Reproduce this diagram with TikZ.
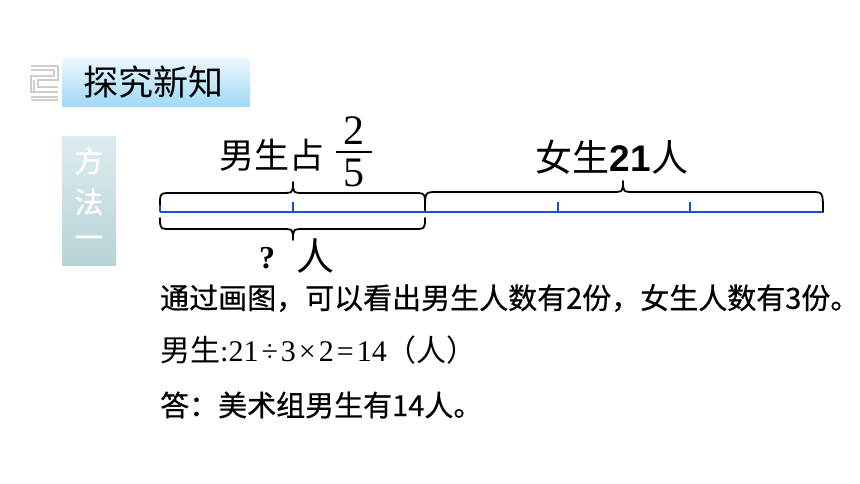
\documentclass[tikz,border=0pt]{standalone}
\usepackage{fontspec}
\setmainfont{Liberation Serif}
\newfontfamily\cjk{Noto Sans CJK SC}
\newfontfamily\cjkm[FakeBold=0.6]{Noto Sans CJK SC}
\newfontfamily\sansf{Liberation Sans}
\newfontfamily\serifb{Liberation Serif Bold}
\definecolor{barblue}{RGB}{30,80,205}
\definecolor{hdtop}{RGB}{236,248,253}
\definecolor{hdbot}{RGB}{160,216,245}
\definecolor{sdtop}{RGB}{220,236,238}
\definecolor{sdbot}{RGB}{184,211,214}
\definecolor{icongray}{RGB}{205,205,205}
\tikzset{
  bar/.style={draw=barblue,line width=2pt},
  bracestyle/.style={draw=black,line width=1.8pt,line cap=round,line join=round},
  txt/.style={inner sep=0pt,anchor=west,font=\cjkm\fontsize{29}{32}\selectfont},
  sidech/.style={inner sep=0pt,text=white,font=\cjkm\fontsize{29}{32}\selectfont},
}
\newcommand{\opsp}{\kern3pt}
\begin{document}
\begin{tikzpicture}[x=1pt,y=-1pt]
\useasboundingbox (0,0) rectangle (860,484);
\fill[white] (0,0) rectangle (860,484);
% decorative icon
\draw[icongray,line width=1.3pt] (31,66) -- (58,66) -- (58,80) -- (38,80) -- (38,87) -- (58,87)
  (31,70) -- (54,70) -- (54,76) -- (31,76) -- (31,92) -- (58,92)
  (31,97) -- (58,97) (34,80) -- (34,92) (31,100)--(58,100);
% header box
\shade[top color=hdtop,bottom color=hdbot] (62,107) -- (62,58) -- (242,58) .. controls (250,58) .. (250,66) -- (250,107) -- cycle;
\node[inner sep=0pt,font=\cjk\fontsize{35}{38}\selectfont] (title) at (153,82) {探究新知};
% side box
\shade[top color=sdtop,bottom color=sdbot] (62,137) rectangle (116,265);
\node[sidech] (m1) at (89,161) {方};
\node[sidech] (m2) at (89,202) {法};
\node[sidech] (m3) at (89,242) {一};
% segment bar
\draw[bar] (160,212) -- (823,212);
\foreach \x in {160,293,425,558,690,823} \draw[bar] (\x,212) -- (\x,202);
% braces
\draw[bracestyle] (160,205) .. controls (160,193) .. (172,193) -- (281,193) .. controls (293,193) .. (293,182)
  .. controls (293,193) .. (305,193) -- (413,193) .. controls (425,193) .. (425,205);
\draw[bracestyle] (425,210) .. controls (425,192) .. (437,192) -- (611,192) .. controls (623,192) .. (623,181)
  .. controls (623,192) .. (635,192) -- (811,192) .. controls (823,192) .. (823,212);
\draw[bracestyle] (160,218) .. controls (160,229) .. (172,229) -- (281,229) .. controls (293,229) .. (293,240)
  .. controls (293,229) .. (305,229) -- (413,229) .. controls (425,229) .. (425,218);
% labels
\node[inner sep=0pt,font=\cjk\fontsize{35}{38}\selectfont] (boys) at (272,155) {男生占};
\node[inner sep=0pt,font=\fontsize{42}{46}\selectfont] (two) at (354,131) {2};
\draw[line width=1.6pt] (336,152) -- (372,152);
\node[inner sep=0pt,font=\fontsize{42}{46}\selectfont] (five) at (354,173) {5};
\node[inner sep=0pt,font=\cjk\fontsize{37}{40}\selectfont] (girls) at (612,157) {女生{\sansf\bfseries 21}人};
\node[inner sep=0pt] (q) at (267,258) {\serifb\fontsize{32}{34}\selectfont ?};
\node[inner sep=0pt,font=\cjk\fontsize{38}{40}\selectfont] (ren) at (315,256) {人};
% text lines
\node[txt] (l1) at (160,298) {通过画图，可以看出男生人数有2份，女生人数有3份。};
\node[txt,font=\fontsize{30}{34}\selectfont] (l2) at (160,350) {{\cjk 男生}:21\opsp÷\opsp3\opsp×\opsp2\opsp=\opsp14{\cjk （人）}};
\node[txt] (l3) at (160,405) {答：美术组男生有14人。};
\end{tikzpicture}
\end{document}
